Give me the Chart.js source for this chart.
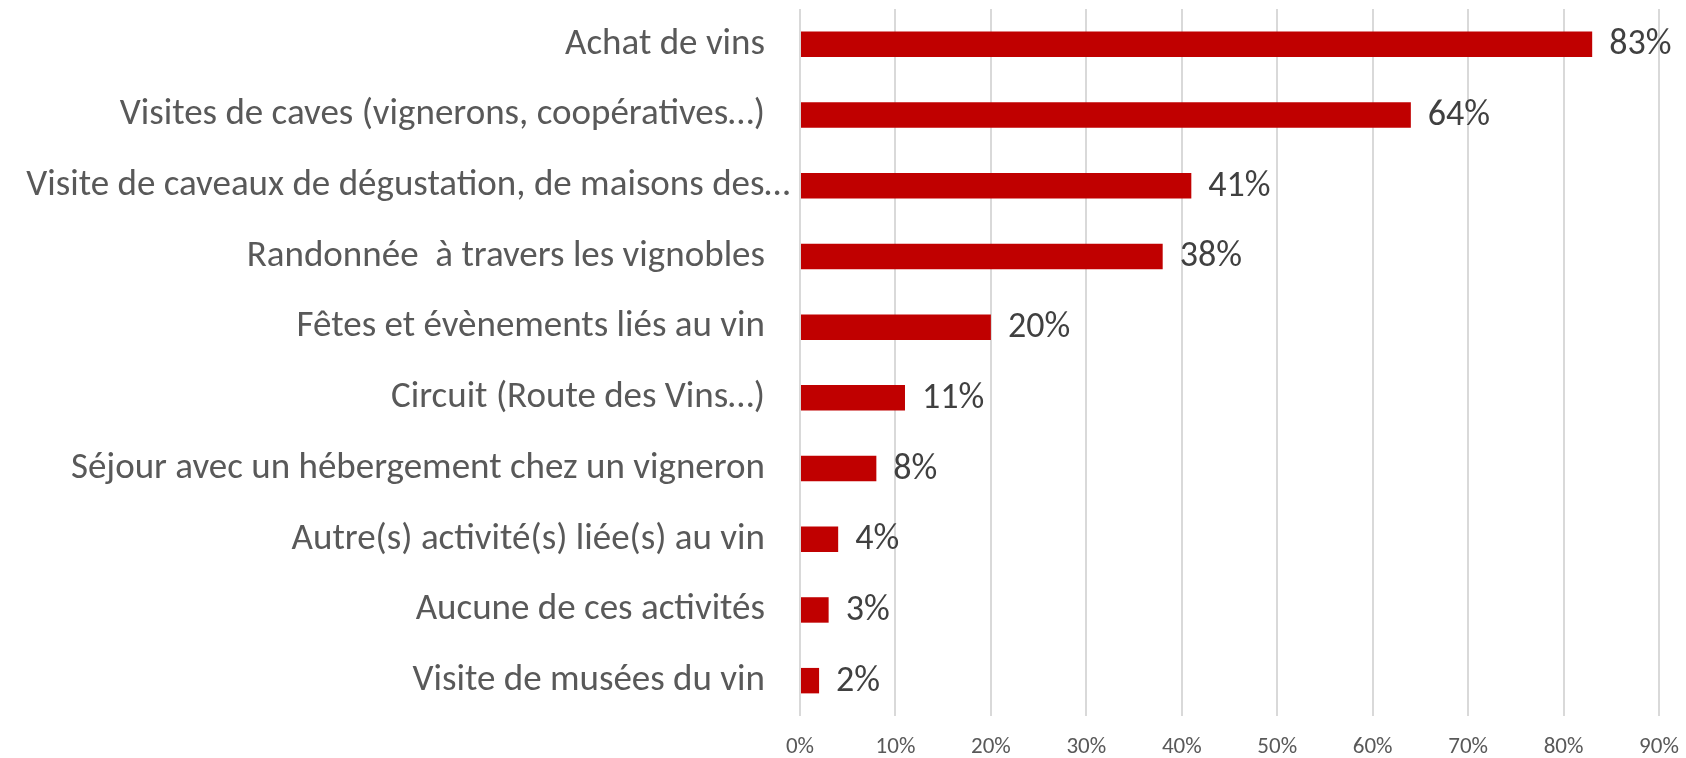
<!DOCTYPE html>
<html>
<head>
<meta charset="utf-8">
<script src="https://cdn.jsdelivr.net/npm/chart.js@4/dist/chart.umd.min.js"></script>
<style>
    html, body { margin: 0; padding: 0; background: #ffffff; }
    #wrap { width: 1686px; height: 758px; position: relative; }
</style>
</head>
<body>
<div id="wrap"><canvas id="graficaActivites"></canvas></div>
<script>
const activites = [
    'Achat de vins',
    'Visites de caves (vignerons, coopératives…)',
    'Visite de caveaux de dégustation, de maisons des…',
    'Randonnée  à travers les vignobles',
    'Fêtes et évènements liés au vin',
    'Circuit (Route des Vins…)',
    'Séjour avec un hébergement chez un vigneron',
    'Autre(s) activité(s) liée(s) au vin',
    'Aucune de ces activités',
    'Visite de musées du vin'
];
const pourcentages = [83, 64, 41, 38, 20, 11, 8, 4, 3, 2];
const ticksX = [0, 10, 20, 30, 40, 50, 60, 70, 80, 90];

const police = 'Carlito, "Liberation Sans Narrow", "DejaVu Sans Condensed", sans-serif';

// etiquettes de valeur au bout des barres
const etiquettesBarres = {
    id: 'etiquettesBarres',
    afterDatasetsDraw(chart) {
        const ctx = chart.ctx;
        const meta = chart.getDatasetMeta(0);
        ctx.save();
        ctx.font = '36px ' + police;
        ctx.fillStyle = '#404040';
        ctx.textAlign = 'left';
        ctx.textBaseline = 'middle';
        meta.data.forEach(function (bar, i) {
            ctx.fillText(pourcentages[i] + '%', bar.x + 17, bar.y + 1);
        });
        ctx.restore();
    }
};

// le libellé tronqué (…) déborde un peu vers l'axe, comme dans Excel
const libelleTronque = {
    id: 'libelleTronque',
    beforeDraw(chart) {
        const items = chart.scales.y.getLabelItems();
        if (items._decale) return;
        const i = activites.indexOf('Visite de caveaux de dégustation, de maisons des…');
        if (items[i]) items[i].options.translation[0] += 25;
        items._decale = true;
    }
};

const canvas = document.getElementById('graficaActivites');

new Chart(canvas, {
    type: 'bar',
    data: {
        labels: activites,
        datasets: [{
            data: pourcentages,
            backgroundColor: '#c00000',
            categoryPercentage: 1,
            barPercentage: 0.36
        }]
    },
    plugins: [etiquettesBarres, libelleTronque],
    options: {
        indexAxis: 'y',
        responsive: true,
        maintainAspectRatio: false,
        animation: false,
        layout: {
            padding: { top: 9, right: 27, left: 0, bottom: 0 }
        },
        plugins: {
            legend: { display: false },
            tooltip: { enabled: false }
        },
        scales: {
            x: {
                min: 0,
                max: 90,
                afterBuildTicks: function (scale) {
                    scale.ticks = ticksX.map(function (v) { return { value: v }; });
                },
                afterFit: function (scale) {
                    scale.height = 42;
                    scale.paddingLeft = 0;
                    scale.paddingRight = 0;
                },
                grid: {
                    color: '#d9d9d9',
                    lineWidth: 2,
                    drawTicks: false
                },
                border: { display: false },
                ticks: {
                    padding: 17,
                    color: '#595959',
                    font: { family: police, size: 23 },
                    callback: function (v) { return v + '%'; }
                }
            },
            y: {
                afterFit: function (scale) {
                    scale.width = 800;
                    scale.paddingTop = 0;
                    scale.paddingBottom = 0;
                },
                grid: { display: false },
                border: { display: false },
                ticks: {
                    padding: 27,
                    color: '#595959',
                    font: { family: police, size: 37 }
                }
            }
        }
    }
});
</script>
</body>
</html>
